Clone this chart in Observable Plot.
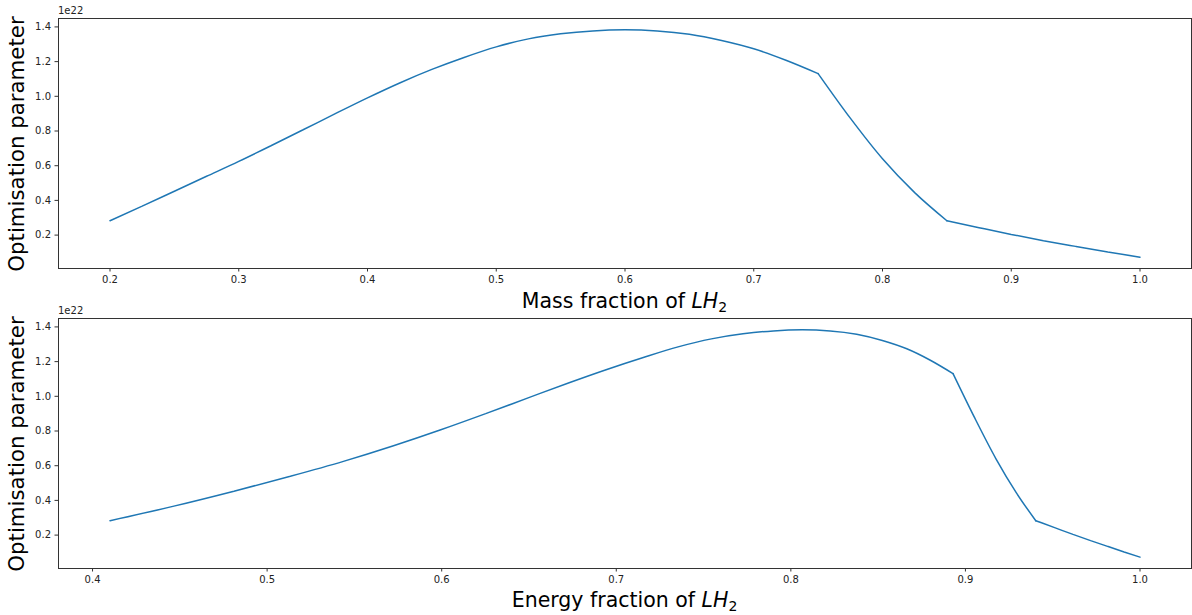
<!DOCTYPE html>
<html>
<head>
<meta charset="utf-8">
<script src="https://cdn.jsdelivr.net/npm/d3@7"></script>
<script src="https://cdn.jsdelivr.net/npm/@observablehq/plot@0.6"></script>
<style>
  body { margin: 0; background: #fff; }
  #fig { position: relative; width: 1192px; height: 615px; font-family: "DejaVu Sans", sans-serif; color: #000; overflow: hidden; }
  .panel { position: absolute; left: 0; }
  .xlabel { position: absolute; left: 58px; width: 1133px; text-align: center; font-size: 20.5px; line-height: 26px; white-space: nowrap; }
  .xlabel sub { font-size: 14px; vertical-align: -4px; line-height: 0; }
  .ylabel { position: absolute; width: 300px; text-align: center; font-size: 21.3px; line-height: 26px; transform: rotate(-90deg); white-space: nowrap; }
  .offset { position: absolute; left: 58px; font-size: 10px; line-height: 12px; color: #222; }
</style>
</head>
<body>
<div id="fig"></div>
<script>
// Mass fraction of LH2 (top panel x)
const massFraction = [0.200, 0.225, 0.250, 0.275, 0.300, 0.325, 0.350, 0.375, 0.400, 0.425, 0.450,
  0.475, 0.500, 0.525, 0.550, 0.575, 0.600, 0.625, 0.650, 0.675, 0.700, 0.725, 0.750,
  0.775, 0.800, 0.825, 0.850, 0.875, 0.900, 0.925, 0.950, 0.975, 1.000];
// Energy fraction of LH2 (bottom panel x)
const energyFraction = [0.4100, 0.4466, 0.4810, 0.5133, 0.5437, 0.5724, 0.5995, 0.6252, 0.6495, 0.6726, 0.6946,
  0.7155, 0.7354, 0.7545, 0.7726, 0.7900, 0.8066, 0.8225, 0.8377, 0.8524, 0.8664, 0.8799, 0.8929,
  0.9054, 0.9175, 0.9291, 0.9403, 0.9511, 0.9616, 0.9717, 0.9814, 0.9909, 1.0000];
// Optimisation parameter (in units of 1e22)
const optimisation = [0.283, 0.367, 0.453, 0.539, 0.625, 0.715, 0.807, 0.900, 0.991, 1.077, 1.155,
  1.224, 1.285, 1.331, 1.360, 1.377, 1.383, 1.377, 1.358, 1.322, 1.274, 1.208, 1.131,
  0.874, 0.640, 0.445, 0.283, 0.243, 0.204, 0.168, 0.135, 0.103, 0.073];
// indices where the curve has a sharp corner
const kinks = [22, 26];

const xTicksTop = [0.2, 0.3, 0.4, 0.5, 0.6, 0.7, 0.8, 0.9, 1.0];
const xTicksBottom = [0.4, 0.5, 0.6, 0.7, 0.8, 0.9, 1.0];
const yTicks = [0.2, 0.4, 0.6, 0.8, 1.0, 1.2, 1.4];

const xLabels = ["Mass fraction of", "Energy fraction of"];
const yLabel = "Optimisation parameter";
const offsetText = "1e22";

const fig = document.getElementById("fig");

function pad(ext, frac) { const r = ext[1] - ext[0]; return [ext[0] - r * frac, ext[1] + r * frac]; }

function segmentData(xs) {
  const bounds = [0, ...kinks, xs.length - 1];
  const out = [];
  for (let s = 0; s < bounds.length - 1; s++) {
    for (let i = bounds[s]; i <= bounds[s + 1]; i++) out.push({x: xs[i], y: optimisation[i], seg: s});
  }
  return out;
}

function makePanel(xs, xTicks, top, height) {
  const data = segmentData(xs);
  const xDom = pad(d3.extent(xs), 0.05);
  const yDom = pad(d3.extent(optimisation), 0.05);
  const chart = Plot.plot({
    width: 1192,
    height: height,
    marginTop: 18,
    marginBottom: height - 268,
    marginLeft: 58,
    marginRight: 1,
    style: {fontFamily: "DejaVu Sans, sans-serif", fontSize: "10px", color: "#222", background: "transparent", overflow: "visible"},
    x: {domain: xDom},
    y: {domain: yDom},
    marks: [
      Plot.line(data, {x: "x", y: "y", z: "seg", stroke: "#1f77b4", strokeWidth: 1.5, curve: "monotone-x", strokeLinejoin: "miter"}),
      Plot.axisX({ticks: xTicks, tickFormat: d => d.toFixed(1), tickSize: 3.5, tickPadding: 3.5, label: null, stroke: "#333"}),
      Plot.axisY({ticks: yTicks, tickFormat: d => d.toFixed(1), tickSize: 3.5, tickPadding: 4, label: null, stroke: "#333"}),
      Plot.frame({stroke: "#333", strokeWidth: 1})
    ]
  });
  const wrap = document.createElement("div");
  wrap.className = "panel";
  wrap.style.top = top + "px";
  wrap.appendChild(chart);
  fig.appendChild(wrap);
}

makePanel(massFraction, xTicksTop, 0, 300);
makePanel(energyFraction, xTicksBottom, 300, 315);

function addText(cls, html, styles) {
  const d = document.createElement("div");
  d.className = cls;
  d.innerHTML = html;
  Object.assign(d.style, styles);
  fig.appendChild(d);
}
addText("xlabel", xLabels[0] + " <i>LH</i><sub>2</sub>", {top: "288px"});
addText("xlabel", xLabels[1] + " <i>LH</i><sub>2</sub>", {top: "587px"});
addText("ylabel", yLabel, {left: (17 - 150) + "px", top: (144 - 13) + "px"});
addText("ylabel", yLabel, {left: (17 - 150) + "px", top: (444 - 13) + "px"});
addText("offset", offsetText, {top: "5px"});
addText("offset", offsetText, {top: "305px"});
</script>
</body>
</html>
